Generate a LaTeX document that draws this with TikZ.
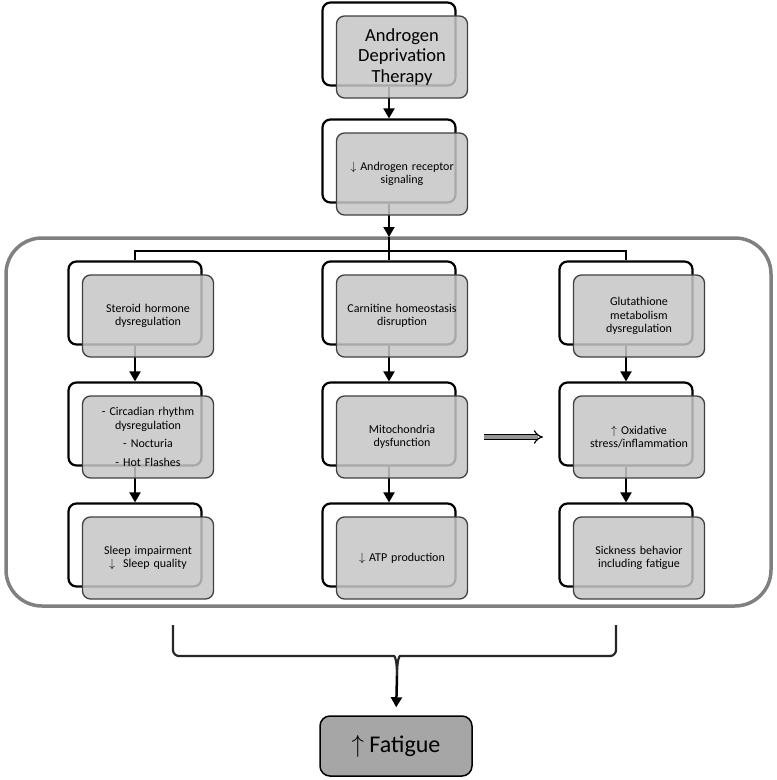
\documentclass[tikz,border=0pt]{standalone}
\usepackage{fontspec}
\setmainfont{Carlito}
\usetikzlibrary{arrows.meta,calc}
\tikzset{
  backframe/.style={draw=black, line width=2.2pt, fill=white, rounded corners=8pt,
    minimum width=133pt, minimum height=83pt, inner sep=0pt},
  frontbox/.style={draw=black!75, line width=1.3pt, fill={rgb,255:red,198;green,198;blue,198},
    fill opacity=0.85, text opacity=1, rounded corners=8pt, minimum width=131pt,
    minimum height=82pt, align=center, text width=126pt, inner sep=0pt,
    font=\fontsize{12}{13.5}\selectfont},
  flow/.style={line width=2pt, draw=black, -{Triangle[length=10pt,width=11pt]}},
  thinline/.style={line width=1.3pt, draw=black},
  container/.style={draw={rgb,255:red,128;green,128;blue,128}, line width=3.5pt, rounded corners=36pt},
  bracestyle/.style={line width=2.2pt, draw=black!85},
  fatbox/.style={draw=black, line width=1.5pt, fill={rgb,255:red,166;green,166;blue,166},
    rounded corners=10pt, minimum width=152pt, minimum height=60pt, inner sep=0pt,
    font=\fontsize{24}{26}\selectfont},
  hollow/.style={draw=black, line width=1.2pt, double={rgb,255:red,150;green,150;blue,150},
    double distance=3.5pt, -{Implies[scale=1.4]}},
}
\begin{document}
\begin{tikzpicture}[x=1pt,y=-1pt]
\useasboundingbox (0,0) rectangle (777,780);
% container
\draw[container] (6,238) rectangle (771,606);
% back frames
\node[backframe] (adtB) at (389,44) {};
\node[backframe] (arB) at (389,161) {};
\node[backframe] (a1B) at (135,303) {};
\node[backframe] (a2B) at (135,424) {};
\node[backframe] (a3B) at (135,545) {};
\node[backframe] (b1B) at (389,303) {};
\node[backframe] (b2B) at (389,424) {};
\node[backframe] (b3B) at (389,545) {};
\node[backframe] (c1B) at (626,303) {};
\node[backframe] (c2B) at (626,424) {};
\node[backframe] (c3B) at (626,545) {};
% coordinates
\coordinate (ctop) at (389,237);
\coordinate (split) at (389,251);
% connectors
\draw[flow] (adtB.south) -- (arB.north);
\draw[flow] (arB.south) -- (ctop);
\draw[thinline] (ctop) -- (split);
\draw[thinline] (a1B.north) -- (a1B.north |- split) -- (c1B.north |- split) -- (c1B.north);
\draw[thinline] (split) -- (b1B.north);
\draw[flow] (a1B.south) -- (a2B.north);
\draw[flow] (a2B.south) -- (a3B.north);
\draw[flow] (b1B.south) -- (b2B.north);
\draw[flow] (b2B.south) -- (b3B.north);
\draw[flow] (c1B.south) -- (c2B.north);
\draw[flow] (c2B.south) -- (c3B.north);
% front boxes
\node[frontbox, font=\fontsize{18.5}{20.5}\selectfont] (adt) at (402,57) {Androgen\\Deprivation\\Therapy};
\node[frontbox] (ar) at (402,174) {$\downarrow$ Androgen receptor\\signaling};
\node[frontbox] (a1) at (148,316) {Steroid hormone\\dysregulation};
\node[frontbox] (a2) at (148,437) {- Circadian rhythm\\dysregulation\\[5pt]- Nocturia\\[5pt]- Hot Flashes};
\node[frontbox] (a3) at (148,558) {Sleep impairment\\$\downarrow$\ \ Sleep quality};
\node[frontbox] (b1) at (402,316) {Carnitine homeostasis\\disruption};
\node[frontbox] (b2) at (402,437) {Mitochondria\\dysfunction};
\node[frontbox] (b3) at (402,558) {$\downarrow$ ATP production};
\node[frontbox] (c1) at (639,316) {Glutathione\\metabolism\\dysregulation};
\node[frontbox] (c2) at (639,437) {$\uparrow$ Oxidative\\stress/inflammation};
\node[frontbox] (c3) at (639,558) {Sickness behavior\\including fatigue};
% hollow arrow
\coordinate (hs) at (484,437);
\coordinate (he) at (543,437);
\draw[hollow] (hs) -- (he);
% brace
\coordinate (bl) at (173,625);
\coordinate (br) at (616,625);
\coordinate (bt) at (397,676);
\draw[bracestyle, rounded corners=6pt] (bl) |- (388,656) .. controls (395,656) and (397,661) .. (bt);
\draw[bracestyle, rounded corners=6pt] (br) |- (406,656) .. controls (399,656) and (397,661) .. (bt);
% fatigue
\node[fatbox] (fat) at (396,746) {$\uparrow$ Fatigue};
\draw[flow, line width=2.5pt, shorten >=8pt] (bt) -- (fat.north);
\end{tikzpicture}
\end{document}
